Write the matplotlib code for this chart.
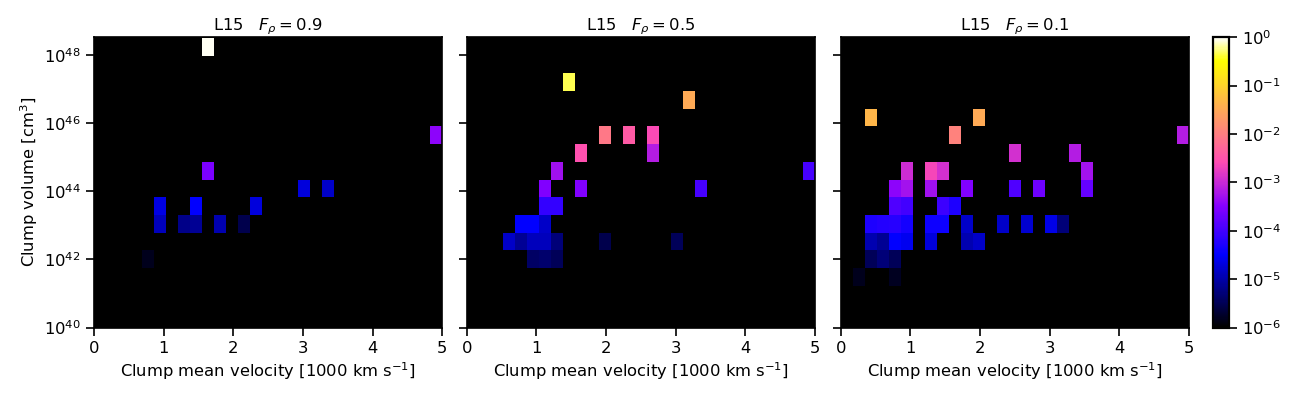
import numpy as np
import matplotlib
matplotlib.use("Agg")
import matplotlib.pyplot as plt
from matplotlib.colors import LogNorm

# bin grid of the 2D histograms
X_EDGES = np.linspace(0.0, 5.0, 30)           # 1000 km/s
LOGV_EDGES = np.linspace(40.19, 48.5, 17)     # log10 cm^3

TITLES = [r"L15   $F_\rho = 0.9$", r"L15   $F_\rho = 0.5$", r"L15   $F_\rho = 0.1$"]

# ---- F_rho = 0.9 ----
vel_09 = [1.64, 4.91, 1.64, 3.02, 3.36, 0.95, 0.95, 1.29, 1.47, 1.47, 1.81, 2.16, 2.33, 0.78]
logv_09 = [48.23, 45.64, 44.60, 44.08, 44.08, 43.56, 43.05, 43.05, 43.05, 43.56, 43.05, 43.05, 43.56, 42.01]
frac_09 = [0.9, 3.6e-4, 2.7e-4, 2e-5, 1.5e-5, 2.2e-5, 1.3e-5, 6.6e-6, 7.6e-6, 3.2e-5, 1.1e-5, 2.9e-6, 2e-5, 1.5e-6]

# ---- F_rho = 0.5 ----
vel_05 = [1.47, 3.19, 1.98, 2.33, 2.67, 2.67, 1.64, 1.29, 1.12, 1.64, 3.36, 4.91,
          1.12, 1.29, 0.78, 0.95, 1.12,
          0.60, 0.78, 0.95, 1.12, 1.29, 1.98, 3.02,
          0.95, 1.12, 1.29]
logv_05 = [47.20, 46.68, 45.64, 45.64, 45.64, 45.12, 45.12, 44.60, 44.08, 44.08, 44.08, 44.60,
           43.56, 43.56, 43.05, 43.05, 43.05,
           42.53, 42.53, 42.53, 42.53, 42.53, 42.53, 42.53,
           42.01, 42.01, 42.01]
frac_05 = [0.45, 3.3e-2, 8.5e-3, 3.8e-3, 2.5e-3, 7e-4, 2.9e-3, 5e-4, 3e-4, 3e-4, 1.06e-4, 1.06e-4,
           7.5e-5, 7.5e-5, 3.2e-5, 3.2e-5, 1.5e-5,
           1.5e-5, 7.6e-6, 1.3e-5, 1.3e-5, 5.1e-6, 2.9e-6, 3.4e-6,
           3.9e-6, 4.5e-6, 3.4e-6]

# ---- F_rho = 0.1 ----
vel_01 = [0.43, 1.98, 1.64, 4.91, 2.50, 3.36, 3.53, 0.95, 1.29, 1.47,
          0.78, 0.95, 1.29, 1.81, 2.50, 2.84, 3.53,
          0.78, 0.95, 1.47, 1.64,
          0.43, 0.60, 0.78, 0.95, 1.29, 1.47, 1.81, 2.33, 2.67, 3.02, 3.19,
          0.43, 0.60, 0.78, 0.95, 1.29, 1.81, 1.98,
          0.43, 0.60, 0.78,
          0.26, 0.78]
logv_01 = [46.16, 46.16, 45.64, 45.64, 45.12, 45.12, 44.60, 44.60, 44.60, 44.60,
           44.08, 44.08, 44.08, 44.08, 44.08, 44.08, 44.08,
           43.56, 43.56, 43.56, 43.56,
           43.05, 43.05, 43.05, 43.05, 43.05, 43.05, 43.05, 43.05, 43.05, 43.05, 43.05,
           42.53, 42.53, 42.53, 42.53, 42.53, 42.53, 42.53,
           42.01, 42.01, 42.01,
           41.49, 41.49]
frac_01 = [4.4e-2, 3.3e-2, 1.1e-2, 7e-4, 1.2e-3, 7e-4, 5.5e-4, 1.1e-3, 2.2e-3, 1.2e-3,
           3.6e-4, 5.5e-4, 5e-4, 3e-4, 1.26e-4, 2.1e-4, 1.8e-4,
           1.26e-4, 1e-4, 8.9e-5, 5.3e-5,
           5.3e-5, 5.8e-5, 6.3e-5, 4.5e-5, 4.1e-5, 4.1e-5, 1.5e-5, 1.5e-5, 1.7e-5, 2.4e-5, 5.1e-6,
           1.1e-5, 7.6e-6, 3.2e-5, 2.6e-5, 2e-5, 1.1e-5, 1.5e-5,
           3.4e-6, 5.1e-6, 3.4e-6,
           1.5e-6, 1.6e-6]

PANELS = [(vel_09, logv_09, frac_09), (vel_05, logv_05, frac_05), (vel_01, logv_01, frac_01)]

FS = 11.8
plt.rcParams.update({
    "axes.linewidth": 1.2,
    "xtick.major.size": 5.5,
    "ytick.major.size": 5.5,
    "xtick.major.width": 1.2,
    "ytick.major.width": 1.2,
    "xtick.major.pad": 4.0,
    "ytick.major.pad": 4.0,
})

fig = plt.figure(figsize=(13, 4), dpi=100)
lefts = [0.0723, 0.359, 0.6467]
width, bottom, height = 0.268, 0.181, 0.726
norm = LogNorm(vmin=1e-6, vmax=1.0)
cmap = plt.get_cmap("gnuplot2").copy()
cmap.set_bad("black")

mesh = None
for i, (vel, logv, frac) in enumerate(PANELS):
    ax = fig.add_axes([lefts[i], bottom, width, height])
    H, _, _ = np.histogram2d(vel, logv, bins=[X_EDGES, LOGV_EDGES], weights=frac)
    H = np.ma.masked_less_equal(H.T, 0)
    ax.set_facecolor("black")
    mesh = ax.pcolormesh(X_EDGES, 10.0 ** LOGV_EDGES, H, cmap=cmap, norm=norm)
    ax.set_yscale("log")
    ax.set_xlim(0, 5)
    ax.set_ylim(1e40, 10 ** 48.52)
    ax.set_yticks([1e40, 1e42, 1e44, 1e46, 1e48])
    ax.yaxis.set_minor_locator(matplotlib.ticker.NullLocator())
    ax.set_xticks([0, 1, 2, 3, 4, 5])
    ax.tick_params(labelsize=FS)
    ax.set_title(TITLES[i], fontsize=FS, pad=5)
    ax.set_xlabel(r"Clump mean velocity [1000 km s$^{-1}$]", fontsize=FS, labelpad=3)
    if i == 0:
        ax.set_ylabel(r"Clump volume [cm$^3$]", fontsize=FS, labelpad=3)
    else:
        ax.set_yticklabels([])

cax = fig.add_axes([0.9333, bottom, 0.0121, height])
cb = fig.colorbar(mesh, cax=cax)
cb.set_ticks([1e-6, 1e-5, 1e-4, 1e-3, 1e-2, 1e-1, 1e0])
cb.ax.minorticks_off()
cb.ax.tick_params(labelsize=FS)
cb.outline.set_linewidth(1.6)

fig.savefig("out.png", dpi=100)
